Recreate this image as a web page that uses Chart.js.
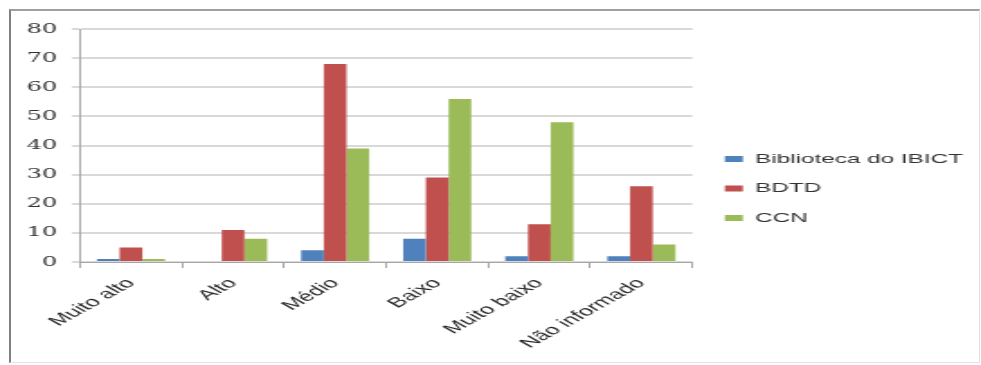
<!DOCTYPE html>
<html>
<head>
<meta charset="utf-8">
<script src="https://cdn.jsdelivr.net/npm/chart.js@4/dist/chart.umd.min.js"></script>
<style>
  html, body { margin: 0; padding: 0; background: #ffffff; overflow: hidden; }
  #page { position: relative; width: 981px; height: 365px; background: #ffffff; }
  /* the chart is laid out narrow and widened horizontally */
  #stage { position: absolute; left: 0; top: 0; width: 545px; height: 365px;
           transform: scaleX(1.8); transform-origin: 0 0; }
  #frame { position: absolute; left: 9px; top: 9px; width: 968px; height: 351px;
           border-left: 2px solid #7f7f7f; border-top: 2px solid #a0a0a0;
           border-right: 1px solid #e2e2e2; border-bottom: 1px solid #e2e2e2;
           pointer-events: none; }
</style>
</head>
<body>
<div id="page">
  <div id="stage"><canvas id="chart" width="545" height="365"></canvas></div>
  <div id="frame"></div>
</div>
<script>
// Categories and series
const categories = ['Muito alto', 'Alto', 'Médio', 'Baixo', 'Muito baixo', 'Não informado'];
const seriesNames = ['Biblioteca do IBICT', 'BDTD', 'CCN'];
const ibict = [1, 0, 4, 8, 2, 2];
const bdtd = [5, 11, 68, 29, 13, 26];
const ccn = [1, 8, 39, 56, 48, 6];
const yTicks = [0, 10, 20, 30, 40, 50, 60, 70, 80];

const colors = ['#4f81bd', '#c0504d', '#9bbb59'];
const values = [ibict, bdtd, ccn];

const datasets = seriesNames.map((name, i) => ({
  label: name,
  data: values[i],
  backgroundColor: colors[i],
  borderWidth: 0,
  yAxisID: 'y',
  categoryPercentage: 0.667,
  barPercentage: 1.0
}));

new Chart(document.getElementById('chart'), {
  type: 'bar',
  data: { labels: categories, datasets },
  options: {
    responsive: false,
    animation: false,
    devicePixelRatio: 1,
    layout: { padding: { top: 12, right: 0, bottom: 0, left: 0 } },
    plugins: {
      tooltip: { enabled: false },
      title: {
        display: true, text: '', fullSize: false,
        padding: { top: 0, bottom: 0 },
        font: { size: 17, lineHeight: 1 }
      },
      legend: {
        position: 'right',
        align: 'center',
        maxWidth: 300,
        labels: {
          boxWidth: 10,
          boxHeight: 6,
          padding: 16,
          color: '#333333',
          font: { family: '"Liberation Sans", Arial, sans-serif', size: 13.5 }
        }
      }
    },
    scales: {
      x: {
        offset: true,
        grid: {
          offset: true,
          drawOnChartArea: false,
          drawTicks: true,
          tickLength: 6,
          color: '#a6a6a6'
        },
        border: { display: true, color: '#a6a6a6', width: 1 },
        ticks: {
          autoSkip: false,
          minRotation: 45,
          maxRotation: 45,
          padding: 7,
          color: '#262626',
          font: { family: '"Liberation Sans", Arial, sans-serif', size: 14 }
        },
        afterFit: (scale) => { scale.height = 103; }
      },
      y: {
        min: 0,
        max: 80,
        afterBuildTicks: (scale) => { scale.ticks = yTicks.map(v => ({ value: v })); },
        grid: {
          color: '#d9d9d9',
          lineWidth: 2,
          tickLength: 4.5,
          drawTicks: true
        },
        border: { display: true, color: '#a6a6a6', width: 1 },
        ticks: {
          padding: 8,
          color: '#333333',
          font: { family: '"DejaVu Serif", serif', size: 13.5 }
        },
        afterFit: (scale) => { scale.width = 44.4; }
      },
      gap: {
        type: 'linear',
        position: 'right',
        display: true,
        grid: { display: false },
        border: { display: false },
        ticks: { display: false },
        afterFit: (scale) => { scale.width = 2; }
      }
    }
  }
});
</script>
</body>
</html>
